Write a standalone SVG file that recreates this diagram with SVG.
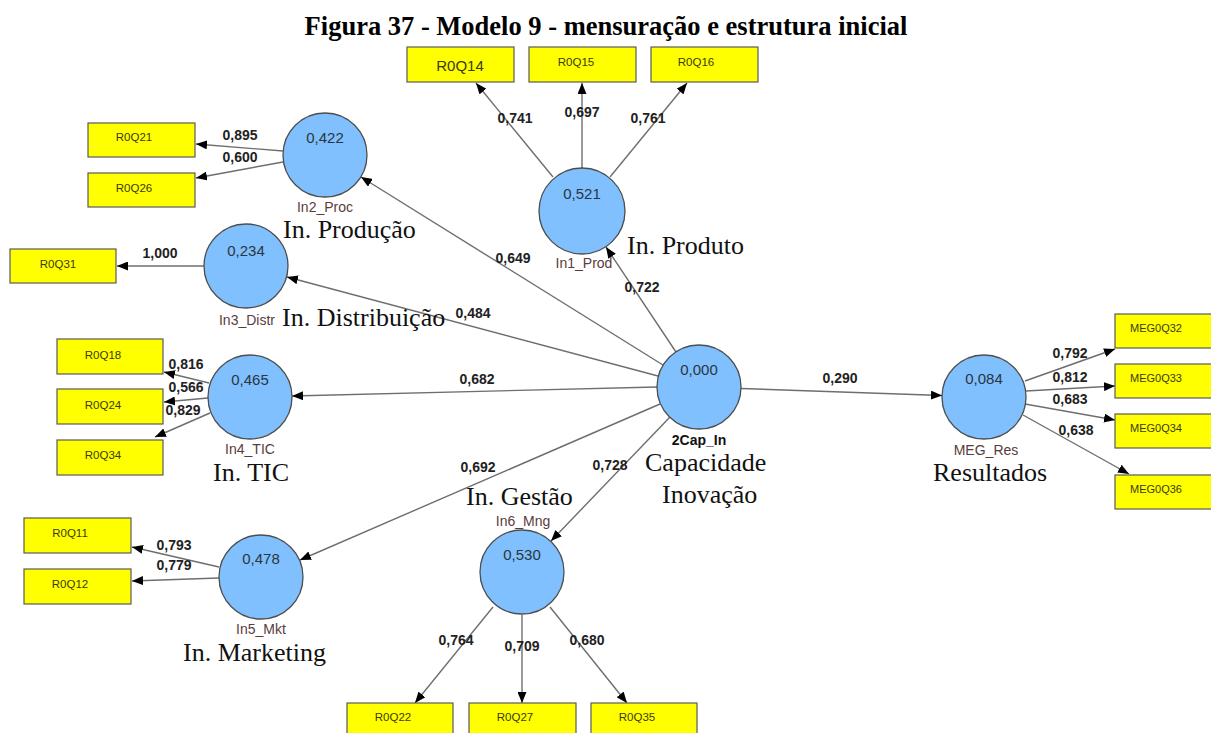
<svg xmlns="http://www.w3.org/2000/svg" width="1211" height="733" viewBox="0 0 1211 733">
  <style>
    .title { font-family: "Liberation Serif", "Times New Roman", serif; font-weight: bold; font-size: 26.5px; fill: #000; }
    .lv { fill: #80c0ff; stroke: #4d4d4d; stroke-width: 1.3; }
    .val { font-family: "Liberation Sans", Arial, sans-serif; font-size: 15px; fill: #2b3540; text-anchor: middle; }
    .name { font-family: "Liberation Sans", Arial, sans-serif; font-size: 14px; fill: #5a3c3c; text-anchor: middle; }
    .cap { font-family: "Liberation Serif", "Times New Roman", serif; font-size: 26px; fill: #111; }
    .ind { fill: #ffff00; stroke: #5a5a5a; stroke-width: 1.2; }
    .it { font-family: "Liberation Sans", Arial, sans-serif; font-size: 11.5px; fill: #3a3a10; text-anchor: middle; }
    .lbl { font-family: "Liberation Sans", Arial, sans-serif; font-size: 14px; font-weight: bold; fill: #222; text-anchor: middle; }
    .edge { stroke: #6e6e6e; stroke-width: 1.4; fill: none; marker-end: url(#ah); }
  </style>
  <defs>
    <marker id="ah" markerUnits="userSpaceOnUse" markerWidth="11" markerHeight="9" refX="11" refY="4.5" orient="auto">
      <path d="M0,0 L11,4.5 L0,9 z" fill="#000"/>
    </marker>
  </defs>

  <rect width="1211" height="733" fill="#fff"/>
  <text class="title" x="606" y="35" text-anchor="middle">Figura 37 - Modelo 9 - mensuração e estrutura inicial</text>

  <!-- connectors -->
  <g id="connectors">
    <!-- structural paths -->
    <line class="edge" x1="676" y1="352" x2="606" y2="247"/>
    <line class="edge" x1="663" y1="365" x2="361" y2="177"/>
    <line class="edge" x1="658" y1="376" x2="287" y2="277"/>
    <line class="edge" x1="657" y1="387" x2="292" y2="396"/>
    <line class="edge" x1="660" y1="404" x2="300" y2="560"/>
    <line class="edge" x1="670" y1="417" x2="551" y2="541"/>
    <line class="edge" x1="741" y1="388.5" x2="942" y2="395.5"/>
    <!-- In1_Prod loadings -->
    <line class="edge" x1="553" y1="177" x2="476" y2="83"/>
    <line class="edge" x1="582" y1="168" x2="582" y2="83"/>
    <line class="edge" x1="610" y1="177" x2="687" y2="83"/>
    <!-- In2_Proc loadings -->
    <line class="edge" x1="283" y1="151" x2="196" y2="144"/>
    <line class="edge" x1="283" y1="162" x2="196" y2="178"/>
    <!-- In3_Distr loading -->
    <line class="edge" x1="204" y1="266" x2="117" y2="266"/>
    <!-- In4_TIC loadings -->
    <line class="edge" x1="209" y1="383" x2="164" y2="372"/>
    <line class="edge" x1="208" y1="398" x2="164" y2="402"/>
    <line class="edge" x1="210" y1="413" x2="155" y2="437"/>
    <!-- In5_Mkt loadings -->
    <line class="edge" x1="219" y1="567" x2="132" y2="547"/>
    <line class="edge" x1="219" y1="578" x2="132" y2="581"/>
    <!-- In6_Mng loadings -->
    <line class="edge" x1="493" y1="607" x2="415" y2="703"/>
    <line class="edge" x1="522" y1="615" x2="522" y2="703"/>
    <line class="edge" x1="550" y1="607" x2="627" y2="703"/>
    <!-- MEG_Res loadings -->
    <line class="edge" x1="1025" y1="381" x2="1115" y2="349"/>
    <line class="edge" x1="1026" y1="391" x2="1115" y2="386"/>
    <line class="edge" x1="1025" y1="404" x2="1115" y2="420"/>
    <line class="edge" x1="1023" y1="415" x2="1129" y2="474"/>
  </g>

  <!-- path coefficients and loadings -->
  <g id="edge-labels">
    <text class="lbl" x="642" y="292">0,722</text>
    <text class="lbl" x="513" y="263">0,649</text>
    <text class="lbl" x="473" y="318">0,484</text>
    <text class="lbl" x="477" y="384">0,682</text>
    <text class="lbl" x="478" y="472">0,692</text>
    <text class="lbl" x="610" y="470">0,728</text>
    <text class="lbl" x="840" y="383">0,290</text>
    <text class="lbl" x="515" y="123">0,741</text>
    <text class="lbl" x="582" y="117">0,697</text>
    <text class="lbl" x="648" y="123">0,761</text>
    <text class="lbl" x="240" y="140">0,895</text>
    <text class="lbl" x="240" y="162">0,600</text>
    <text class="lbl" x="160" y="258">1,000</text>
    <text class="lbl" x="186" y="369">0,816</text>
    <text class="lbl" x="186" y="392">0,566</text>
    <text class="lbl" x="183" y="415">0,829</text>
    <text class="lbl" x="174" y="550">0,793</text>
    <text class="lbl" x="174" y="570">0,779</text>
    <text class="lbl" x="456" y="645">0,764</text>
    <text class="lbl" x="522" y="651">0,709</text>
    <text class="lbl" x="587" y="645">0,680</text>
    <text class="lbl" x="1070" y="358">0,792</text>
    <text class="lbl" x="1070" y="382">0,812</text>
    <text class="lbl" x="1070" y="404">0,683</text>
    <text class="lbl" x="1076" y="435">0,638</text>
  </g>

  <!-- latent variables -->
  <g id="In1_Prod">
    <circle class="lv" cx="582" cy="211" r="43"/>
    <text class="val" x="582" y="199">0,521</text>
    <text class="name" x="584" y="268">In1_Prod</text>
    <text class="cap" x="627" y="254">In. Produto</text>
  </g>
  <g id="In2_Proc">
    <circle class="lv" cx="325" cy="155" r="42"/>
    <text class="val" x="325" y="143">0,422</text>
    <text class="name" x="325" y="212">In2_Proc</text>
    <text class="cap" x="283" y="238">In. Produção</text>
  </g>
  <g id="In3_Distr">
    <circle class="lv" cx="246" cy="266" r="42"/>
    <text class="val" x="246" y="256">0,234</text>
    <text class="name" x="247" y="325">In3_Distr</text>
    <text class="cap" x="282" y="326">In. Distribuição</text>
  </g>
  <g id="In4_TIC">
    <circle class="lv" cx="250" cy="397" r="42"/>
    <text class="val" x="250" y="385">0,465</text>
    <text class="name" x="250" y="454">In4_TIC</text>
    <text class="cap" x="213" y="481">In. TIC</text>
  </g>
  <g id="In5_Mkt">
    <circle class="lv" cx="261" cy="577" r="42"/>
    <text class="val" x="261" y="564">0,478</text>
    <text class="name" x="261" y="634">In5_Mkt</text>
    <text class="cap" x="183" y="661">In. Marketing</text>
  </g>
  <g id="In6_Mng">
    <circle class="lv" cx="522" cy="572" r="42"/>
    <text class="val" x="522" y="560">0,530</text>
    <text class="name" x="523" y="526">In6_Mng</text>
    <text class="cap" x="466" y="505">In. Gestão</text>
  </g>
  <g id="Cap_In">
    <circle class="lv" cx="699" cy="387" r="42"/>
    <text class="val" x="699" y="375">0,000</text>
    <text class="name" x="699" y="445" style="font-weight:bold;fill:#111">2Cap_In</text>
    <text class="cap" x="645" y="471">Capacidade</text>
    <text class="cap" x="662" y="503">Inovação</text>
  </g>
  <g id="MEG_Res">
    <circle class="lv" cx="984" cy="397" r="42"/>
    <text class="val" x="984" y="384">0,084</text>
    <text class="name" x="986" y="455">MEG_Res</text>
    <text class="cap" x="933" y="481">Resultados</text>
  </g>

  <!-- indicators -->
  <g id="R0Q14"><rect class="ind" x="407" y="47" width="107" height="35"/><text class="it" x="460" y="71" style="font-size:15px">R0Q14</text></g>
  <g id="R0Q15"><rect class="ind" x="529" y="47" width="107" height="35"/><text class="it" x="576" y="66">R0Q15</text></g>
  <g id="R0Q16"><rect class="ind" x="651" y="47" width="107" height="35"/><text class="it" x="696" y="66">R0Q16</text></g>
  <g id="R0Q21"><rect class="ind" x="88" y="123" width="107" height="34"/><text class="it" x="134" y="141">R0Q21</text></g>
  <g id="R0Q26"><rect class="ind" x="88" y="173" width="107" height="34"/><text class="it" x="134" y="192">R0Q26</text></g>
  <g id="R0Q31"><rect class="ind" x="10" y="249" width="106" height="34"/><text class="it" x="58" y="268">R0Q31</text></g>
  <g id="R0Q18"><rect class="ind" x="57" y="339" width="106" height="35"/><text class="it" x="103" y="359">R0Q18</text></g>
  <g id="R0Q24"><rect class="ind" x="57" y="389" width="106" height="35"/><text class="it" x="103" y="409">R0Q24</text></g>
  <g id="R0Q34"><rect class="ind" x="57" y="440" width="106" height="35"/><text class="it" x="103" y="459">R0Q34</text></g>
  <g id="R0Q11"><rect class="ind" x="24" y="518" width="107" height="35"/><text class="it" x="70" y="537">R0Q11</text></g>
  <g id="R0Q12"><rect class="ind" x="24" y="569" width="107" height="35"/><text class="it" x="70" y="588">R0Q12</text></g>
  <g id="R0Q22"><rect class="ind" x="347" y="703" width="106" height="35"/><text class="it" x="393" y="721">R0Q22</text></g>
  <g id="R0Q27"><rect class="ind" x="469" y="703" width="107" height="35"/><text class="it" x="515" y="721">R0Q27</text></g>
  <g id="R0Q35"><rect class="ind" x="591" y="703" width="106" height="35"/><text class="it" x="637" y="721">R0Q35</text></g>
  <g id="MEG0Q32"><rect class="ind" x="1115" y="314" width="107" height="34"/><text class="it" x="1130" y="332" style="text-anchor:start;font-size:11px">MEG0Q32</text></g>
  <g id="MEG0Q33"><rect class="ind" x="1115" y="364" width="107" height="34"/><text class="it" x="1130" y="382" style="text-anchor:start;font-size:11px">MEG0Q33</text></g>
  <g id="MEG0Q34"><rect class="ind" x="1115" y="414" width="107" height="34"/><text class="it" x="1130" y="432" style="text-anchor:start;font-size:11px">MEG0Q34</text></g>
  <g id="MEG0Q36"><rect class="ind" x="1115" y="475" width="107" height="34"/><text class="it" x="1130" y="493" style="text-anchor:start;font-size:11px">MEG0Q36</text></g>
</svg>
